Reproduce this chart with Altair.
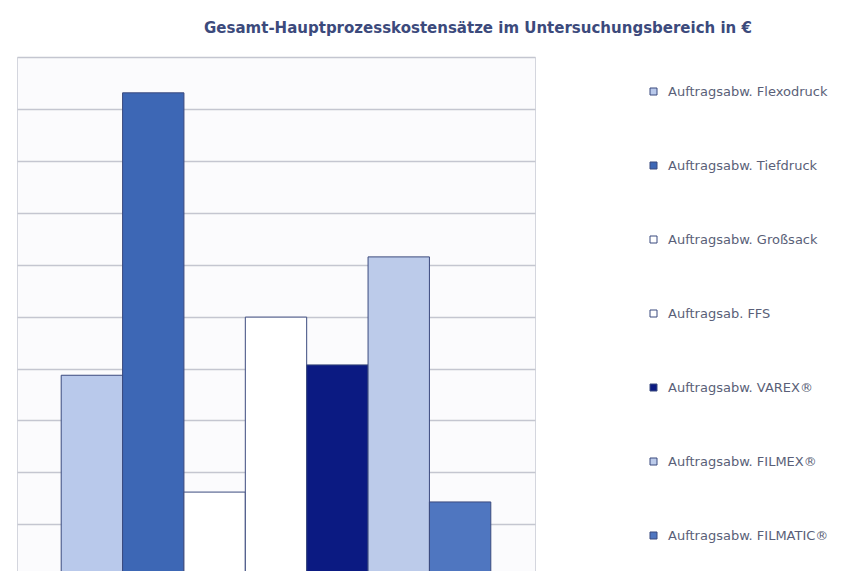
import altair as alt
import pandas as pd

# Series (one cluster of seven bars)
series = [
    "Auftragsabw. Flexodruck",
    "Auftragsabw. Tiefdruck",
    "Auftragsabw. Großsack",
    "Auftragsab. FFS",
    "Auftragsabw. VAREX®",
    "Auftragsabw. FILMEX®",
    "Auftragsabw. FILMATIC®",
]
# Values (relative units, gridline step = 10)
values = [48.7, 103.1, 26.2, 59.9, 50.7, 71.5, 24.3]
colors = ["#b9c9eb", "#3d67b5", "#ffffff", "#ffffff", "#0b1a82", "#bccbea", "#4f76c0"]
grid_values = [20, 30, 40, 50, 60, 70, 80, 90, 100, 110]

df = pd.DataFrame({"Serie": series, "Wert": values})

title = alt.Title(
    "Gesamt-Hauptprozesskostensätze im Untersuchungsbereich in €",
    anchor="middle",
    frame="group",
    dx=202,
    offset=21,
    font="DejaVu Sans",
    fontSize=15,
    fontWeight="bold",
    color="#3c4a7c",
)

chart = (
    alt.Chart(df, title=title)
    .mark_bar(stroke="#3b4a7e", strokeWidth=1, clip=True)
    .encode(
        x=alt.X(
            "Serie:N",
            sort=series,
            scale=alt.Scale(paddingInner=0, paddingOuter=0.72),
            axis=None,
        ),
        y=alt.Y(
            "Wert:Q",
            scale=alt.Scale(domain=[11, 110], zero=False, nice=False),
            axis=alt.Axis(
                values=grid_values,
                labels=False,
                ticks=False,
                domain=False,
                title=None,
                grid=True,
                gridColor="#c4c6d0",
                gridWidth=1.5,
            ),
        ),
        color=alt.Color(
            "Serie:N",
            sort=series,
            scale=alt.Scale(domain=series, range=colors),
            legend=alt.Legend(
                title=None,
                orient="none",
                legendX=630,
                legendY=28,
                padding=0,
                symbolType="square",
                symbolSize=49,
                symbolStrokeColor="#3b4a7e",
                symbolStrokeWidth=1,
                symbolOpacity=1,
                labelFont="DejaVu Sans",
                labelFontSize=13,
                labelColor="#5a5f78",
                labelOffset=8,
                labelLimit=0,
                rowPadding=60,
            ),
        ),
    )
    .properties(
        width=518,
        height=514,
        autosize="none",
        padding={"left": 17, "top": 57, "right": 331, "bottom": 0},
    )
    .configure_view(stroke="#d4d6de", strokeWidth=1, fill="#fbfbfd")
)

chart.save("out.html", embed_options={"renderer": "svg", "actions": False})
